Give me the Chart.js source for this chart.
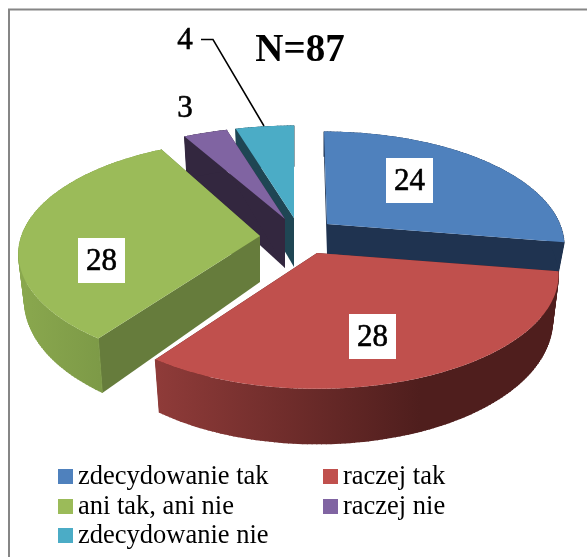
<!DOCTYPE html>
<html><head><meta charset="utf-8">
<script src="https://cdn.jsdelivr.net/npm/chart.js@4"></script>
<style>html,body{margin:0;padding:0;background:#fff;overflow:hidden}
#w{position:absolute;left:0;top:0;width:587px;height:557px}</style></head>
<body><div id="w"><canvas id="c" width="587" height="557"></canvas></div>
<script>
const categories = ["zdecydowanie tak","raczej tak","ani tak, ani nie","raczej nie","zdecydowanie nie"];
const values = [24,28,28,3,4];
const topColors = ["#4f81bd","#c0504d","#9bbb59","#8064a2","#4bacc6"];
const faceColors = ["#1f3350","#4f1e1d","#667c3c","#33273f","#1f4654"];
const sampleTitle = "N=87";

// projection of the flat pie into the tilted view (layout only)
const RMAX = 278.5, TILT = 0.19, XS = 242/RMAX, YS = 110/RMAX, BOTTOM_SHRINK = 0.975;
const apex = [[324,224],[317,253],[260,232],[285,219],[294,218]];
const tipShift = [[3,0],[0,0],[0,4],[0,0],[0,0]];
const widthScale = [0.975,0.98,0.98,1,1];
const depth = [30,45,46,49,49];
const drawOrder = [4,0,3,2,1];
const labelBoxes = {0:[386,158,47,45],1:[349,314,47,45],2:[78,238,47,45]};
const outside = {3:[185,109],4:[185,41]};
const legendPos = [[58,477],[323,477],[58,507],[323,507],[58,536]];

function proj(i,a,R,down){
  const r=R/RMAX, v=Math.sin(a)*r, f=1/(1-TILT*v);
  const dx=R*XS*widthScale[i]*Math.cos(a)*f;
  const x=apex[i][0]+(down?dx*BOTTOM_SHRINK:dx), y=apex[i][1]+R*YS*Math.sin(a)*f;
  return [x, y+(down?depth[i]*f:0)];
}
function tip(i,down){
  return [apex[i][0]+tipShift[i][0], apex[i][1]+tipShift[i][1]+(down?depth[i]:0)];
}
function sweep(i,a0,a1,R,down,pts){
  const n=Math.max(2,Math.ceil(Math.abs(a1-a0)*60));
  for(let k=0;k<=n;k++){pts.push(proj(i,a0+(a1-a0)*k/n,R,down));}
  return pts;
}
function poly(ctx,pts,fill){
  ctx.beginPath();pts.forEach((p,k)=>k?ctx.lineTo(p[0],p[1]):ctx.moveTo(p[0],p[1]));
  ctx.closePath();ctx.fillStyle=fill;ctx.fill();
}
function wallFill(ctx,i){
  if(i===1){const g=ctx.createLinearGradient(157,0,420,0);
    g.addColorStop(0,"#8f3b39");g.addColorStop(1,"#4f1e1d");return g;}
  if(i===2){const g=ctx.createLinearGradient(19,0,100,0);
    g.addColorStop(0,"#8aa84e");g.addColorStop(1,"#7d9a47");return g;}
  return faceColors[i];
}
const pie3d={id:"pie3d",
  beforeDatasetsDraw(chart){
    const ctx=chart.ctx, arcs=chart.getDatasetMeta(0).data;
    ctx.save();
    drawOrder.forEach(i=>{
      const A=arcs[i], a0=A.startAngle, a1=A.endAngle, R=A.outerRadius;
      const c0=tip(i,false), c0d=tip(i,true);
      poly(ctx,[c0,proj(i,a0,R,false),proj(i,a0,R,true),c0d],faceColors[i]);
      poly(ctx,[c0,proj(i,a1,R,false),proj(i,a1,R,true),c0d],faceColors[i]);
      const top=sweep(i,a0,a1,R,false,[]), bot=sweep(i,a0,a1,R,true,[]), fill=wallFill(ctx,i);
      poly(ctx,top.concat(bot.slice().reverse()),fill);
      ctx.strokeStyle=fill;ctx.lineWidth=1;
      top.forEach((p,k)=>{ctx.beginPath();ctx.moveTo(p[0],p[1]);ctx.lineTo(bot[k][0],bot[k][1]);ctx.stroke();});
      poly(ctx,[c0].concat(top),topColors[i]);
    });
    ctx.restore();
    return false;
  },
  afterDraw(chart){
    const ctx=chart.ctx;
    ctx.save();
    ctx.textBaseline="middle";ctx.textAlign="center";ctx.fillStyle="#000";
    ctx.strokeStyle="#000";ctx.lineWidth=0.6;
    ctx.font="31px 'Liberation Serif'";
    Object.keys(labelBoxes).forEach(k=>{
      const b=labelBoxes[k];
      ctx.fillStyle="#fff";ctx.fillRect(b[0],b[1],b[2],b[3]);
      ctx.fillStyle="#000";
      ctx.fillText(String(values[k]),b[0]+b[2]/2,b[1]+b[3]/2+1);
      ctx.strokeText(String(values[k]),b[0]+b[2]/2,b[1]+b[3]/2+1);
    });
    Object.keys(outside).forEach(k=>{
      ctx.fillText(String(values[k]),outside[k][0],outside[k][1]);
      ctx.strokeText(String(values[k]),outside[k][0],outside[k][1]);
    });
    ctx.font="bold 39px 'Liberation Serif'";
    ctx.fillText(sampleTitle,300,51);
    ctx.lineWidth=1.5;
    ctx.beginPath();ctx.moveTo(201,39.5);ctx.lineTo(213,39.5);ctx.lineTo(264,126);ctx.stroke();
    ctx.textAlign="left";ctx.font="26.5px 'Liberation Serif'";
    categories.forEach((t,i)=>{
      const p=legendPos[i];
      ctx.fillStyle=topColors[i];ctx.fillRect(p[0],p[1]-8,15,15);
      ctx.fillStyle="#000";ctx.fillText(t,p[0]+20,p[1]);
    });
    ctx.restore();
  }
};
new Chart(document.getElementById("c"),{
  type:"pie",
  data:{labels:categories,datasets:[{data:values,backgroundColor:topColors,borderWidth:0}]},
  options:{responsive:false,animation:false,events:[],
    plugins:{legend:{display:false},tooltip:{enabled:false},title:{display:false}}},
  plugins:[pie3d,{id:"frame",beforeDraw(chart){
    const ctx=chart.ctx;ctx.save();ctx.fillStyle="#fff";ctx.fillRect(0,0,587,557);
    ctx.strokeStyle="#868686";ctx.lineWidth=2;
    ctx.beginPath();ctx.moveTo(9,560);ctx.lineTo(9,9.5);ctx.lineTo(590,9.5);ctx.stroke();
    ctx.restore();}}]
});
</script></body></html>
